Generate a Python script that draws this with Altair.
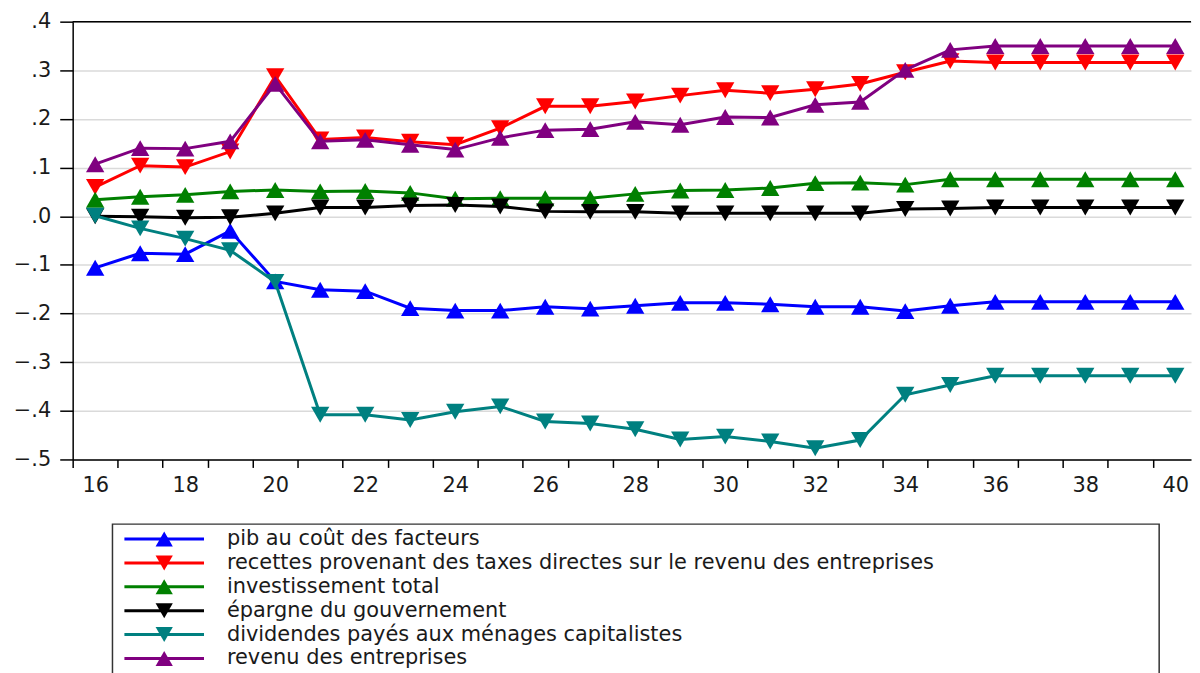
import altair as alt
import pandas as pd

years = list(range(16, 41))
series_names = [
    "pib au coût des facteurs",
    "recettes provenant des taxes directes sur le revenu des entreprises",
    "investissement total",
    "épargne du gouvernement",
    "dividendes payés aux ménages capitalistes",
    "revenu des entreprises",
]
pib = [-0.106, -0.076, -0.078, -0.030, -0.134, -0.151, -0.154, -0.189, -0.194, -0.194,
       -0.186, -0.190, -0.184, -0.178, -0.178, -0.181, -0.186, -0.186, -0.195, -0.184,
       -0.176, -0.176, -0.176, -0.176, -0.176]
recettes = [0.060, 0.104, 0.101, 0.133, 0.288, 0.158, 0.162, 0.153, 0.147, 0.181,
            0.226, 0.226, 0.236, 0.248, 0.259, 0.253, 0.261, 0.272, 0.296, 0.319,
            0.316, 0.316, 0.316, 0.316, 0.316]
investissement = [0.034, 0.040, 0.044, 0.051, 0.054, 0.051, 0.052, 0.048, 0.036, 0.037,
                  0.037, 0.037, 0.046, 0.053, 0.054, 0.058, 0.068, 0.069, 0.065, 0.076,
                  0.076, 0.076, 0.076, 0.076, 0.076]
epargne = [0.000, -0.001, -0.003, -0.002, 0.006, 0.018, 0.018, 0.022, 0.023, 0.020,
           0.010, 0.009, 0.009, 0.006, 0.006, 0.006, 0.006, 0.006, 0.015, 0.016,
           0.018, 0.018, 0.018, 0.018, 0.018]
dividendes = [0.001, -0.025, -0.046, -0.070, -0.135, -0.408, -0.408, -0.419, -0.402, -0.391,
              -0.422, -0.426, -0.438, -0.459, -0.453, -0.463, -0.477, -0.460, -0.367, -0.347,
              -0.328, -0.328, -0.328, -0.328, -0.328]
revenu = [0.107, 0.140, 0.139, 0.154, 0.272, 0.154, 0.157, 0.147, 0.137, 0.161,
          0.177, 0.179, 0.194, 0.188, 0.204, 0.203, 0.229, 0.235, 0.301, 0.342,
          0.350, 0.350, 0.350, 0.350, 0.350]

series_values = [pib, recettes, investissement, epargne, dividendes, revenu]
colors = ["#0000ff", "#ff0000", "#008000", "#000000", "#008080", "#800080"]
shapes = ["triangle-up", "triangle-down", "triangle-up", "triangle-down", "triangle-down", "triangle-up"]
y_ticks = [-0.5, -0.4, -0.3, -0.2, -0.1, 0.0, 0.1, 0.2, 0.3, 0.4]
x_ticks = [15.5 + 0.5 * i for i in range(50)]

rows = []
for name, vals in zip(series_names, series_values):
    for yr, v in zip(years, vals):
        rows.append({"year": yr, "value": v, "series": name})
df = pd.DataFrame(rows)

FONT = "DejaVu Sans"
W, H = 1124, 440

color_scale = alt.Scale(domain=series_names, range=colors)
shape_scale = alt.Scale(domain=series_names, range=shapes)

x_enc = alt.X(
    "year:Q",
    title=None,
    scale=alt.Scale(domain=[15.5, 40.35], nice=False, zero=False),
    axis=alt.Axis(
        values=x_ticks,
        labelExpr="datum.value % 2 == 0 ? format(datum.value, 'd') : ''",
        tickOpacity={"condition": {"test": "datum.value % 1 == 0", "value": 0}, "value": 1},
        labelOverlap=False,
        labelFlush=False,
        labelBound=False,
        grid=False,
        tickSize=8,
        labelPadding=7,
        domainColor="black",
        domainWidth=1.5,
        tickColor="black",
        tickWidth=1.5,
    ),
)
y_enc = alt.Y(
    "value:Q",
    title=None,
    scale=alt.Scale(domain=[-0.5, 0.4], nice=False, zero=False),
    axis=alt.Axis(
        values=y_ticks,
        labelExpr="replace(format(datum.value, '.1f'), '0.', '.')",
        grid=True,
        gridColor="#dadada",
        gridWidth=1.5,
        tickSize=13,
        labelPadding=9,
        minExtent=60,
        domainColor="black",
        domainWidth=1.5,
        tickColor="black",
        tickWidth=1.5,
    ),
)
col = alt.Color("series:N", scale=color_scale, legend=None)
shp = alt.Shape("series:N", scale=shape_scale, legend=None)

layers = []
for name in series_names:
    base = alt.Chart(df).transform_filter(alt.datum.series == name)
    layers.append(base.mark_line(strokeWidth=3).encode(x=x_enc, y=y_enc, color=col))
    layers.append(base.mark_point(filled=True, size=340, opacity=1).encode(x=x_enc, y=y_enc, color=col, shape=shp))

dummy = pd.DataFrame({"d": [0]})
border = alt.Chart(dummy).mark_rule(color="black", strokeWidth=1.5).encode(
    x=alt.value(0), x2=alt.value(W), y=alt.value(0)
)
main = alt.layer(*layers, border).properties(width=W, height=H)

leg_df = pd.DataFrame({"series": series_names, "idx": list(range(len(series_names)))})
y_leg = alt.Y("idx:Q", scale=alt.Scale(domain=[-0.625, 6.375], reverse=True, nice=False, zero=False), axis=None)
box = alt.Chart(dummy).mark_rect(fillOpacity=0, stroke="#333333", strokeWidth=1.5).encode(
    x=alt.value(40), x2=alt.value(1092), y=alt.value(0), y2=alt.value(168)
)
leg_rule = alt.Chart(leg_df).mark_rule(strokeWidth=3).encode(
    x=alt.value(52), x2=alt.value(132), y=y_leg, color=col
)
leg_pts = alt.Chart(leg_df).mark_point(filled=True, size=300, opacity=1).encode(
    x=alt.value(92), y=y_leg, color=col, shape=shp
)
leg_txt = alt.Chart(leg_df).mark_text(
    align="left", baseline="middle", fontSize=21, font=FONT, color="#1a1a1a"
).encode(x=alt.value(155), y=y_leg, text="series:N")
legend = alt.layer(box, leg_rule, leg_pts, leg_txt).properties(width=W, height=168)

chart = (
    alt.vconcat(main, legend, spacing=28)
    .properties(padding={"left": 5, "top": 1, "right": 0, "bottom": 0})
    .configure_view(stroke=None)
    .configure_axis(labelFont=FONT, labelFontSize=21, labelColor="#1a1a1a")
)
chart.save("out.html", embed_options={"renderer": "svg", "actions": False})
